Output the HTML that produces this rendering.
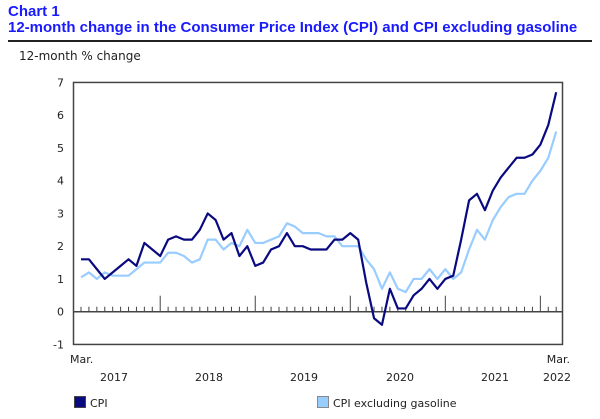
<!DOCTYPE html>
<html><head><meta charset="utf-8"><style>
body{margin:0;background:#fff;width:600px;height:419px;overflow:hidden;font-family:Verdana,"DejaVu Sans",sans-serif}
.t{position:absolute;left:8px;color:#1a1aff;font:bold 15px "Liberation Sans",Arial,sans-serif}
</style></head><body>
<div class="t" style="top:3px">Chart 1</div>
<div class="t" style="top:19px">12-month change in the Consumer Price Index (CPI) and CPI excluding gasoline</div>
<div style="position:absolute;left:8px;top:40px;width:584px;height:2px;background:#222"></div>
<svg id="c" width="600" height="419" style="position:absolute;left:0;top:0"></svg>
<script>
const cpi=[1.6,1.6,1.3,1.0,1.2,1.4,1.6,1.4,2.1,1.9,
1.7,2.2,2.3,2.2,2.2,2.5,3.0,2.8,2.2,2.4,1.7,2.0,
1.4,1.5,1.9,2.0,2.4,2.0,2.0,1.9,1.9,1.9,2.2,2.2,
2.4,2.2,0.9,-0.2,-0.4,0.7,0.1,0.1,0.5,0.7,1.0,0.7,
1.0,1.1,2.2,3.4,3.6,3.1,3.7,4.1,4.4,4.7,4.7,4.8,
5.1,5.7,6.7];
const cpiExGas=[1.05,1.2,1.0,1.2,1.1,1.1,1.1,1.3,1.5,1.5,
1.5,1.8,1.8,1.7,1.5,1.6,2.2,2.2,1.9,2.1,2.0,2.5,
2.1,2.1,2.2,2.3,2.7,2.6,2.4,2.4,2.4,2.3,2.3,2.0,
2.0,2.0,1.6,1.3,0.7,1.2,0.7,0.6,1.0,1.0,1.3,1.0,
1.3,1.0,1.2,1.9,2.5,2.2,2.8,3.2,3.5,3.6,3.6,4.0,
4.3,4.7,5.5];
const yTicks=[-1,0,1,2,3,4,5,6,7];
const years=["2017","2018","2019","2020","2021","2022"];
const svg=document.getElementById('c');const NS='http://www.w3.org/2000/svg';
const X0=81,STEP=7.92,Y0=311.7,YU=32.75;
const xs=i=>X0+i*STEP, ys=v=>Y0-v*YU;
function mk(t,a,p){const e=document.createElementNS(NS,t);for(const k in a)e.setAttribute(k,a[k]);(p||svg).appendChild(e);return e;}
let fr=mk('rect',{x:73.5,y:ys(7),width:489,height:ys(-1)-ys(7),fill:'none',stroke:'#444','stroke-width':1.5});


let zl=mk('line',{x1:73,x2:563,y1:Y0,y2:Y0,stroke:'#444','stroke-width':1.5});


yTicks.forEach(v=>{const t=mk('text',{x:64,y:ys(v)+4,'text-anchor':'end','font-size':11,fill:'#222'});t.textContent=v;

});
for(let i=0;i<61;i++){const major=(i-10)%12==0&&i>=10;const l=mk('line',{x1:xs(i),x2:xs(i),y1:Y0,y2:Y0-(major?16:5),stroke:'#444','stroke-width':1});

}
function series(d,col,name){const p=mk('polyline',{points:d.map((v,i)=>xs(i)+','+ys(v)).join(' '),fill:'none',stroke:col,'stroke-width':2.2,'stroke-linejoin':'round'});

}
series(cpiExGas,'#99ccff','cpi-excluding-gasoline-line');
series(cpi,'#0a0a80','cpi-line');
function txt(s,x,y,a,name){const t=mk('text',{x:x,y:y,'text-anchor':a,'font-size':11,fill:'#222'});t.textContent=s;

}
txt('Mar.',70,363,'start','x-start-month');
txt('Mar.',570,363,'end','x-end-month');
const yc=[114,209,304,400,495,557];
years.forEach((y,i)=>txt(y,yc[i],381,'middle','x-year-label'));
</script>
<div style="position:absolute;left:19px;top:49px;font-size:12px;color:#222">12-month % change</div>
<div style="position:absolute;left:74px;top:396px;font-size:11px;color:#222"><span style="display:inline-block;width:10px;height:10px;background:#0a0a80;border:1px solid #444;vertical-align:-1px;margin-right:4px"></span>CPI</div>
<div style="position:absolute;left:317px;top:396px;font-size:11px;color:#222"><span style="display:inline-block;width:10px;height:10px;background:#99ccff;border:1px solid #888;vertical-align:-1px;margin-right:4px"></span>CPI excluding gasoline</div>
</body></html>
